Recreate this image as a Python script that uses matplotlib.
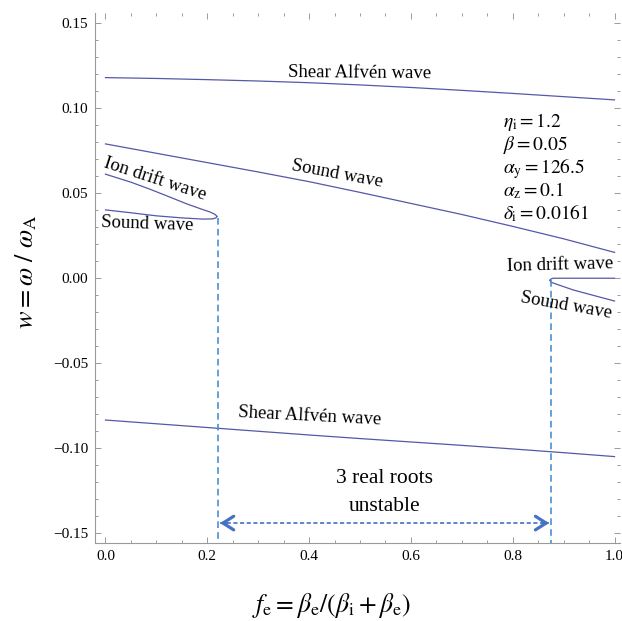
import numpy as np
import matplotlib
matplotlib.use('Agg')
import matplotlib.pyplot as plt
from matplotlib.ticker import MultipleLocator, FuncFormatter

plt.rcParams['font.family'] = ['Liberation Serif', 'DejaVu Serif']
plt.rcParams['mathtext.fontset'] = 'stix'

# Branches (x = f_e, y = w)
x_alf = [0.0, 0.1, 0.2, 0.3, 0.4, 0.5, 0.6, 0.7, 0.8, 0.9, 1.0]
y_alf_up = [0.1180, 0.1175, 0.1168, 0.1160, 0.1150, 0.1137, 0.1122, 0.1105, 0.1087, 0.1068, 0.1049]
y_alf_lo = [-0.0834, -0.0856, -0.0878, -0.0900, -0.0922, -0.0943, -0.0963, -0.0983, -0.1004, -0.1026, -0.1049]

x_snd = [0.0, 0.1, 0.2, 0.3, 0.4, 0.5, 0.6, 0.7, 0.8, 0.9, 1.0]
y_snd = [0.0790, 0.0735, 0.0680, 0.0625, 0.0568, 0.0505, 0.0440, 0.0375, 0.0305, 0.0232, 0.0152]

# left pair merging near f_e = 0.22
x_idw_l = [0.0, 0.05, 0.087, 0.12, 0.16, 0.19, 0.205, 0.215, 0.219]
y_idw_l = [0.0612, 0.0565, 0.0524, 0.0485, 0.0437, 0.0405, 0.0390, 0.0376, 0.0364]
x_snd_l = [0.0, 0.05, 0.1, 0.15, 0.19, 0.21, 0.217, 0.219]
y_snd_l = [0.0402, 0.0385, 0.0367, 0.0355, 0.0348, 0.0349, 0.0355, 0.0364]

# right pair splitting near f_e = 0.873
x_idw_r = [0.873, 0.876, 0.88, 0.9, 0.95, 1.0]
y_idw_r = [-0.0012, -0.0003, 0.0, 0.0, 0.0, 0.0]
x_snd_r = [0.873, 0.876, 0.886, 0.919, 0.95, 1.0]
y_snd_r = [-0.0012, -0.0024, -0.0035, -0.0069, -0.0094, -0.0134]

f_crit = [0.222, 0.8745]
w_crit = [0.0355, -0.0010]
w_arrow = -0.1440

params = [r'$\eta_{\mathrm{i}} = 1.2$', r'$\beta = 0.05$', r'$\alpha_{\mathrm{y}} = 126.5$',
          r'$\alpha_{\mathrm{z}} = 0.1$', r'$\delta_{\mathrm{i}} = 0.0161$']

line_col = '#5558a8'
dash_col = '#4a8fd6'
arr_col = '#4472c4'

fig = plt.figure(figsize=(6.22, 6.21), dpi=100)
ax = fig.add_axes([95 / 622, 1 - 543.3 / 621, (620 - 95) / 622, (543.3 - 13) / 621])

for xs, ys in [(x_alf, y_alf_up), (x_alf, y_alf_lo), (x_snd, y_snd),
               (x_idw_l, y_idw_l), (x_snd_l, y_snd_l), (x_idw_r, y_idw_r), (x_snd_r, y_snd_r)]:
    ax.plot(xs, ys, color=line_col, lw=0.9)

ax.set_xlim(-0.0206, 1.0108)
ax.set_ylim(-0.1559, 0.1560)

for xc, wc in zip(f_crit, w_crit):
    ax.plot([xc, xc], [wc, -0.1559], color=dash_col, lw=1.2, ls=(0, (4, 2.5)), clip_on=False)

# dashed shaft, then solid open heads at each end
left_tip = f_crit[0] + 0.003
right_tip = f_crit[1] - 0.003
ax.plot([left_tip, right_tip], [w_arrow, w_arrow], color=arr_col, lw=1.2, ls=(0, (2.5, 1.5)))
for tip, back in [(left_tip, left_tip + 0.012), (right_tip, right_tip - 0.012)]:
    ax.annotate('', xy=(tip, w_arrow), xytext=(back, w_arrow),
                arrowprops=dict(arrowstyle='->,head_length=0.55,head_width=0.35', color=arr_col,
                                lw=2.3, mutation_scale=14, shrinkA=0, shrinkB=0))

ax.text(0.549, -0.1175, '3 real roots', ha='center', va='center', fontsize=15.5)
ax.text(0.549, -0.1345, 'unstable', ha='center', va='center', fontsize=15.5)

ax.text(0.50, 0.1208, 'Shear Alfvén wave', ha='center', va='center', fontsize=13.5, rotation=-0.5)
ax.text(0.455, 0.0612, 'Sound wave', ha='center', va='center', fontsize=13.5, rotation=-10.5)
ax.text(0.097, 0.0585, 'Ion drift wave', ha='center', va='center', fontsize=13.5, rotation=-18)
ax.text(0.083, 0.0318, 'Sound wave', ha='center', va='center', fontsize=13.5, rotation=-2)
ax.text(0.893, 0.0080, 'Ion drift wave', ha='center', va='center', fontsize=13.5, rotation=1.5)
ax.text(0.905, -0.0160, 'Sound wave', ha='center', va='center', fontsize=13.5, rotation=-10)
ax.text(0.402, -0.0810, 'Shear Alfvén wave', ha='center', va='center', fontsize=13.5, rotation=-3)

for i, p in enumerate(params):
    ax.text(0.781, 0.0890 - i * 0.01355, p, ha='left', va='baseline', fontsize=14)

# Mathematica-like frame: left/bottom drawn, ticks on all sides
for s in ['top', 'right']:
    ax.spines[s].set_visible(False)
for s in ['left', 'bottom']:
    ax.spines[s].set_color('#9a9a9a')
    ax.spines[s].set_linewidth(0.8)
ax.xaxis.set_major_locator(MultipleLocator(0.2))
ax.xaxis.set_minor_locator(MultipleLocator(0.05))
ax.yaxis.set_major_locator(MultipleLocator(0.05))
ax.yaxis.set_minor_locator(MultipleLocator(0.01))
ax.xaxis.set_major_formatter(FuncFormatter(lambda v, p: ('%.1f' % v).replace('-', '\u2212')))
ax.yaxis.set_major_formatter(FuncFormatter(lambda v, p: ('%.2f' % (v + 0.0)).replace('-', '\u2212')))
ax.tick_params(which='both', direction='in', top=True, right=True, color='#9a9a9a',
               width=0.7, labelsize=11, pad=5)
ax.tick_params(which='major', length=4.5)
ax.tick_params(which='minor', length=2.5)

fig.text(26 / 622, 1 - 272 / 621, r'$w = \omega\ /\ \omega_{\mathrm{A}}$', rotation=90,
         ha='center', va='center', fontsize=19)
fig.text(332 / 622, 1 - 606 / 621, r'$f_{\mathrm{e}} = \beta_{\mathrm{e}}/(\beta_{\mathrm{i}} + \beta_{\mathrm{e}})$',
         ha='center', va='center', fontsize=18.5)

fig.savefig('out.png', dpi=100)
